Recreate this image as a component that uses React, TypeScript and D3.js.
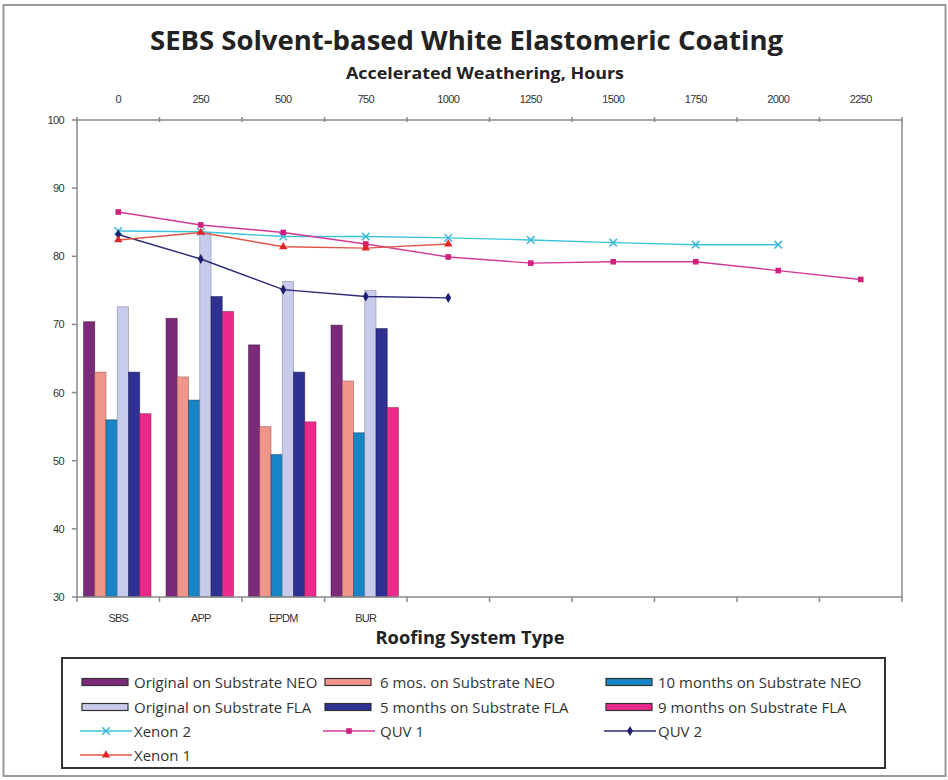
import React from "react";
import * as d3 from "d3";

const title = "SEBS Solvent-based White Elastomeric Coating";
const topAxisTitle = "Accelerated Weathering, Hours";
const bottomAxisTitle = "Roofing System Type";

const hours = ["0", "250", "500", "750", "1000", "1250", "1500", "1750", "2000", "2250"];
const systems = ["SBS", "APP", "EPDM", "BUR", "", "", "", "", "", ""];
const yTicks = [30, 40, 50, 60, 70, 80, 90, 100];

const origNEO = [70.4, 70.9, 67.0, 69.9];
const mos6NEO = [63.0, 62.3, 55.0, 61.7];
const mo10NEO = [56.0, 58.9, 50.9, 54.1];
const origFLA = [72.6, 83.4, 76.3, 75.0];
const mo5FLA = [63.0, 74.1, 63.0, 69.4];
const mo9FLA = [56.9, 71.9, 55.7, 57.8];

const xenon2 = [83.7, 83.6, 82.9, 82.9, 82.7, 82.4, 82.0, 81.7, 81.7];
const quv1 = [86.5, 84.6, 83.5, 81.8, 79.9, 79.0, 79.2, 79.2, 77.9, 76.6];
const quv2 = [83.2, 79.6, 75.1, 74.1, 73.9];
const xenon1 = [82.4, 83.5, 81.4, 81.2, 81.8];

const barSeries = [
  { name: "Original on Substrate NEO", values: origNEO, fill: "#7a2a78", stroke: "#3a1238" },
  { name: "6 mos. on Substrate NEO", values: mos6NEO, fill: "#f0968a", stroke: "#8a4a44" },
  { name: "10 months on Substrate NEO", values: mo10NEO, fill: "#1784c6", stroke: "#1a3a5a" },
  { name: "Original on Substrate FLA", values: origFLA, fill: "#c8cbea", stroke: "#7a7a8a" },
  { name: "5 months on Substrate FLA", values: mo5FLA, fill: "#2e3192", stroke: "#15164a" },
  { name: "9 months on Substrate FLA", values: mo9FLA, fill: "#ec2a8c", stroke: "#7a1a4a" },
];

const lineSeries = [
  { name: "Xenon 2", values: xenon2, color: "#3cc4de", marker: "x", mcolor: "#3cb8d8" },
  { name: "QUV 1", values: quv1, color: "#d23a96", marker: "square", mcolor: "#d0207e" },
  { name: "QUV 2", values: quv2, color: "#2a2a78", marker: "diamond", mcolor: "#1e1e6e" },
  { name: "Xenon 1", values: xenon1, color: "#e05548", marker: "triangle", mcolor: "#e02424" },
];

const W = 948;
const H = 780;
const left = 77;
const right = 902;
const top = 120;
const bottom = 597;
const axisColor = "#8a8a8a";
const textColor = "#333";

function Marker({ type, x, y, color }: { type: string; x: number; y: number; color: string }) {
  if (type === "x") {
    const s = 3.8;
    return (
      <g stroke={color} strokeWidth={1.5}>
        <line x1={x - s} y1={y - s} x2={x + s} y2={y + s} />
        <line x1={x - s} y1={y + s} x2={x + s} y2={y - s} />
      </g>
    );
  }
  if (type === "square") {
    return <rect x={x - 2.8} y={y - 2.8} width={5.6} height={5.6} fill={color} />;
  }
  const sym = type === "diamond" ? d3.symbolDiamond : d3.symbolTriangle;
  const size = type === "diamond" ? 30 : 30;
  return <path d={d3.symbol().type(sym).size(size)() || ""} transform={`translate(${x},${y})`} fill={color} />;
}

export default function App() {
  const y = d3.scaleLinear().domain([30, 100]).range([bottom, top]);
  const xBottom = d3.scaleBand<number>().domain(d3.range(systems.length)).range([left, right]);
  const xTop = d3.scaleBand<number>().domain(d3.range(hours.length)).range([left, right]);
  const bw = xBottom.bandwidth();
  const inner = d3
    .scaleBand<number>()
    .domain(d3.range(barSeries.length))
    .range([6.5, bw - 8.5])
    .paddingInner(0);

  const lineGen = d3
    .line<number>()
    .x((_, i) => (xTop(i) as number) + xTop.bandwidth() / 2)
    .y((v) => y(v));

  const bandEdges = d3.range(systems.length + 1).map((i) => left + i * bw);

  const legendRows = [682, 707, 731, 755];
  const legendCols = [
    { sx: 82, tx: 134 },
    { sx: 325, tx: 380 },
    { sx: 606, tx: 658 },
  ];
  const legendItems: { kind: "bar" | "line"; idx: number }[] = [
    ...barSeries.map((_, i) => ({ kind: "bar" as const, idx: i })),
    ...lineSeries.map((_, i) => ({ kind: "line" as const, idx: i })),
  ];

  return (
    <svg
      width={W}
      height={H}
      viewBox={`0 0 ${W} ${H}`}
      style={{ position: "absolute", left: 0, top: 0, background: "#fff" }}
      fontFamily="'Open Sans', 'Noto Sans', sans-serif"
    >
      <rect x={0} y={0} width={W} height={H} fill="#fff" />
      <rect x={3.5} y={5} width={942} height={771} fill="none" stroke="#9a9a9a" strokeWidth={2} />

      <text x={466.5} y={50} textAnchor="middle" fontSize={27} fontWeight={700} fill="#222" textLength={633} lengthAdjust="spacingAndGlyphs">
        {title}
      </text>
      <text x={485} y={79} textAnchor="middle" fontSize={16} fontWeight={700} fill="#222" textLength={278} lengthAdjust="spacingAndGlyphs">
        {topAxisTitle}
      </text>

      {/* top axis labels */}
      {hours.map((h, i) => (
        <text
          key={h}
          x={(xTop(i) as number) + xTop.bandwidth() / 2}
          y={103}
          textAnchor="middle"
          fontSize={11}
          fontFamily="'Liberation Sans', Arial, sans-serif"
          letterSpacing={-0.6}
          fill={textColor}
        >
          {h}
        </text>
      ))}

      {/* left axis labels */}
      {yTicks.map((t) => (
        <text
          key={t}
          x={64}
          y={y(t) + 4}
          textAnchor="end"
          fontSize={11}
          fontFamily="'Liberation Sans', Arial, sans-serif"
          letterSpacing={-0.6}
          fill={textColor}
        >
          {t}
        </text>
      ))}

      {/* bars */}
      {barSeries.map((s, si) => (
        <g key={s.name}>
          {s.values.map((v, ci) => (
            <rect
              key={ci}
              x={(xBottom(ci) as number) + (inner(si) as number)}
              y={y(v)}
              width={inner.bandwidth()}
              height={y(30) - y(v)}
              fill={s.fill}
              stroke={s.stroke}
              strokeWidth={0.8}
              strokeOpacity={0.6}
            />
          ))}
        </g>
      ))}

      {/* axes */}
      <g stroke={axisColor} strokeWidth={1.5} fill="none">
        <line x1={left} y1={top} x2={right} y2={top} />
        <line x1={left} y1={bottom} x2={right} y2={bottom} />
        <line x1={left} y1={top} x2={left} y2={bottom} />
        <line x1={right} y1={top} x2={right} y2={bottom} />
        {yTicks.map((t) => (
          <line key={t} x1={left - 5} y1={y(t)} x2={left} y2={y(t)} />
        ))}
        {bandEdges.map((ex, i) => (
          <line key={"b" + i} x1={ex} y1={bottom} x2={ex} y2={bottom + 5} />
        ))}
        {bandEdges.map((ex, i) => (
          <line key={"t" + i} x1={ex} y1={top - 3} x2={ex} y2={top + 2} />
        ))}
      </g>

      {/* lines */}
      {lineSeries.map((s) => (
        <g key={s.name}>
          <path d={lineGen(s.values) || ""} fill="none" stroke={s.color} strokeWidth={1.4} />
          {s.values.map((v, i) => (
            <Marker key={i} type={s.marker} x={(xTop(i) as number) + xTop.bandwidth() / 2} y={y(v)} color={s.mcolor} />
          ))}
        </g>
      ))}

      {/* bottom labels */}
      {systems.map((c, i) =>
        c ? (
          <text
            key={i}
            x={(xBottom(i) as number) + bw / 2}
            y={622}
            textAnchor="middle"
            fontSize={11}
            fontFamily="'Liberation Sans', Arial, sans-serif"
            letterSpacing={-0.8}
            fill={textColor}
          >
            {c}
          </text>
        ) : null
      )}
      <text x={470} y={644} textAnchor="middle" fontSize={17} fontWeight={700} fill="#222" textLength={189} lengthAdjust="spacingAndGlyphs">
        {bottomAxisTitle}
      </text>

      {/* legend */}
      <rect x={62} y={658} width={823} height={110} fill="#fff" stroke="#333" strokeWidth={2} />
      {legendItems.map((it, k) => {
        const row = Math.floor(k / 3);
        const col = k % 3;
        const ly = legendRows[row];
        const { sx, tx } = legendCols[col];
        if (it.kind === "bar") {
          const s = barSeries[it.idx];
          return (
            <g key={k}>
              <rect x={sx} y={ly - 3.5} width={46} height={7} fill={s.fill} stroke="#333" strokeWidth={1.2} />
              <text x={tx} y={ly + 5.5} fontSize={15} fill={textColor}>
                {s.name}
              </text>
            </g>
          );
        }
        const s = lineSeries[it.idx];
        return (
          <g key={k}>
            <line x1={sx - 2} y1={ly} x2={sx + 50} y2={ly} stroke={s.color} strokeWidth={1.5} />
            <Marker type={s.marker} x={sx + 24} y={ly} color={s.mcolor} />
            <text x={tx} y={ly + 5.5} fontSize={15} fill={textColor}>
              {s.name}
            </text>
          </g>
        );
      })}
    </svg>
  );
}
